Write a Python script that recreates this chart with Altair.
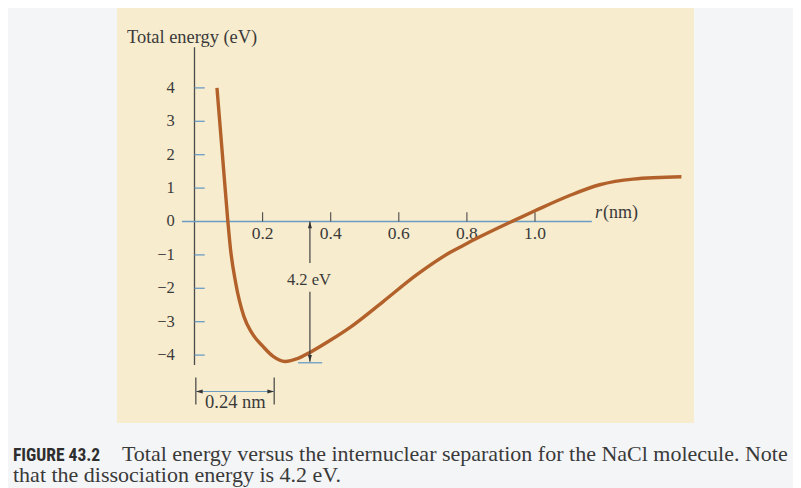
import altair as alt
import pandas as pd

# ---- data ----
r_nm = [0.066, 0.082, 0.098, 0.106, 0.121, 0.145, 0.168, 0.201, 0.231, 0.266,
        0.304, 0.339, 0.40, 0.457, 0.555, 0.652, 0.75, 0.80, 0.838, 0.888,
        0.932, 1.0, 1.1, 1.19, 1.288, 1.43]
energy_ev = [4.0, 2.0, 0.0, -0.85, -1.84, -2.84, -3.33, -3.74, -4.04, -4.19,
             -4.10, -3.92, -3.55, -3.17, -2.39, -1.60, -0.93, -0.66, -0.46, -0.21,
             0.0, 0.32, 0.77, 1.10, 1.27, 1.34]

y_tick_values = [4, 3, 2, 1, -1, -2, -3, -4]
y_label_values = [4, 3, 2, 1, 0, -1, -2, -3, -4]
y_label_text = ["4", "3", "2", "1", "0", "\u22121", "\u22122", "\u22123", "\u22124"]
x_tick_values = [0.2, 0.4, 0.6, 0.8, 1.0]
x_label_text = ["0.2", "0.4", "0.6", "0.8", "1.0"]

dissociation_ev = 4.2
arrow_r = 0.339
equilibrium_nm = 0.234

title_text = "Total energy (eV)"
caption_head = "FIGURE 43.2"
caption_line1 = "Total energy versus the internuclear separation for the NaCl molecule. Note"
caption_line2 = "that the dissociation energy is 4.2 eV."

# ---- scales (plot area = whole page minus 8px margin) ----
H = 480
E_TOP = 6.392
E_BOT = E_TOP - H / 33.4
XS = alt.Scale(domain=[-0.5477, 1.7577], nice=False, zero=False)
YS = alt.Scale(domain=[E_BOT, E_TOP], nice=False, zero=False)

SERIF = "Liberation Serif"
INK = "#3a3a3a"
BLUE = "#6b9cc4"


def X(f):
    return alt.X(f, type="quantitative", scale=XS, axis=None)


def Y(f):
    return alt.Y(f, type="quantitative", scale=YS, axis=None)


def text_layer(df, size, align="left", baseline="alphabetic", font=SERIF,
               color=INK, weight="normal", style="normal"):
    return alt.Chart(df).mark_text(
        align=align, baseline=baseline, font=font, fontSize=size,
        color=color, fontWeight=weight, fontStyle=style
    ).encode(x=X("x"), y=Y("y"), text="t:N")


layers = []

# cream panel
bg = pd.DataFrame({"x": [-0.2276], "x2": [1.467], "y": [E_TOP], "y2": [-6.033]})
layers.append(alt.Chart(bg).mark_rect(color="#f7ecce").encode(
    x=X("x"), x2="x2", y=Y("y"), y2="y2"))

# y axis line
ya = pd.DataFrame({"x": [0.0], "y": [5.22], "y2": [-4.30]})
layers.append(alt.Chart(ya).mark_rule(color="#4a4a4a", strokeWidth=1.3).encode(
    x=X("x"), y=Y("y"), y2="y2"))

# y ticks
yt = pd.DataFrame({"x": [0.0] * len(y_tick_values), "x2": [0.03] * len(y_tick_values),
                   "y": y_tick_values})
layers.append(alt.Chart(yt).mark_rule(color=BLUE, strokeWidth=1.3).encode(
    x=X("x"), x2="x2", y=Y("y")))

# y labels
yl = pd.DataFrame({"x": [-0.058] * len(y_label_values), "y": y_label_values,
                   "t": y_label_text})
layers.append(text_layer(yl, 16.5, align="right", baseline="middle"))

# x axis line
xa = pd.DataFrame({"x": [-0.037], "x2": [1.167], "y": [0.0]})
layers.append(alt.Chart(xa).mark_rule(color=BLUE, strokeWidth=1.4).encode(
    x=X("x"), x2="x2", y=Y("y")))

# x ticks
xt = pd.DataFrame({"x": x_tick_values, "y": [0.0] * 5, "y2": [0.28] * 5})
layers.append(alt.Chart(xt).mark_rule(color="#4a4a4a", strokeWidth=1.1).encode(
    x=X("x"), y=Y("y"), y2="y2"))

# x labels
xl = pd.DataFrame({"x": x_tick_values, "y": [-0.53] * 5, "t": x_label_text})
layers.append(text_layer(xl, 17.5, align="center"))

# r(nm)
layers.append(text_layer(pd.DataFrame({"x": [1.176], "y": [0.105], "t": ["r"]}), 18,
                         style="italic"))
layers.append(text_layer(pd.DataFrame({"x": [1.2], "y": [0.105], "t": ["(nm)"]}), 18))

# title
layers.append(text_layer(pd.DataFrame({"x": [-0.198], "y": [5.353], "t": [title_text]}), 18.4))

# curve
curve = pd.DataFrame({"r": r_nm, "E": energy_ev})
layers.append(alt.Chart(curve).mark_line(
    color="#b3612b", strokeWidth=3.4, interpolate="monotone").encode(
    x=X("r"), y=Y("E")))

# 4.2 eV arrow
seg = pd.DataFrame({"x": [arrow_r, arrow_r], "y": [0.0, -2.10], "y2": [-1.24, -dissociation_ev]})
layers.append(alt.Chart(seg).mark_rule(color="#333333", strokeWidth=1.1).encode(
    x=X("x"), y=Y("y"), y2="y2"))
bar = pd.DataFrame({"x": [arrow_r - 0.035], "x2": [arrow_r + 0.036], "y": [-dissociation_ev - 0.03]})
layers.append(alt.Chart(bar).mark_rule(color=BLUE, strokeWidth=1.3).encode(
    x=X("x"), x2="x2", y=Y("y")))
up = pd.DataFrame({"x": [arrow_r], "y": [0.0]})
layers.append(alt.Chart(up).mark_point(
    shape="M0,0L-0.5,1.7L0.5,1.7Z", filled=True, opacity=1, size=64, color="#333333").encode(
    x=X("x"), y=Y("y")))
dn = pd.DataFrame({"x": [arrow_r], "y": [-dissociation_ev]})
layers.append(alt.Chart(dn).mark_point(
    shape="M0,0L-0.5,-1.7L0.5,-1.7Z", filled=True, opacity=1, size=64, color="#333333").encode(
    x=X("x"), y=Y("y")))
layers.append(text_layer(pd.DataFrame({"x": [0.336], "y": [-1.90], "t": ["4.2 eV"]}), 16.5,
                         align="center"))

# 0.24 nm dimension
dv = pd.DataFrame({"x": [0.004, equilibrium_nm], "y": [-4.67, -4.67], "y2": [-5.48, -5.48]})
layers.append(alt.Chart(dv).mark_rule(color="#333333", strokeWidth=1.1).encode(
    x=X("x"), y=Y("y"), y2="y2"))
dh = pd.DataFrame({"x": [0.004], "x2": [equilibrium_nm], "y": [-5.09]})
layers.append(alt.Chart(dh).mark_rule(color=BLUE, strokeWidth=1.2).encode(
    x=X("x"), x2="x2", y=Y("y")))
lf = pd.DataFrame({"x": [0.004], "y": [-5.09]})
layers.append(alt.Chart(lf).mark_point(
    shape="M0,0L1.7,-0.5L1.7,0.5Z", filled=True, opacity=1, size=64, color="#333333").encode(
    x=X("x"), y=Y("y")))
rt = pd.DataFrame({"x": [equilibrium_nm], "y": [-5.09]})
layers.append(alt.Chart(rt).mark_point(
    shape="M0,0L-1.7,-0.5L-1.7,0.5Z", filled=True, opacity=1, size=64, color="#333333").encode(
    x=X("x"), y=Y("y")))
layers.append(text_layer(pd.DataFrame({"x": [0.12], "y": [-5.58], "t": ["0.24 nm"]}), 18.5,
                         align="center"))

# caption
layers.append(text_layer(pd.DataFrame({"x": [-0.533], "y": [-7.171], "t": [caption_head]}), 17.5,
                         font="Liberation Sans Narrow, Roboto Condensed, Liberation Sans",
                         weight="bold", color="#2e2e2e"))
layers.append(text_layer(pd.DataFrame({"x": [-0.213], "y": [-7.171], "t": [caption_line1]}), 22,
                         color="#3a3a3a"))
layers.append(text_layer(pd.DataFrame({"x": [-0.533], "y": [-7.80], "t": [caption_line2]}), 22,
                         color="#3a3a3a"))

chart = alt.layer(*layers).properties(
    width=785, height=H, autosize=alt.AutoSizeParams(type="none"), padding=0,
    background="#f4f5f7"
).configure_view(stroke=None)

chart.save("out.html", embed_options={"renderer": "svg", "actions": False})
